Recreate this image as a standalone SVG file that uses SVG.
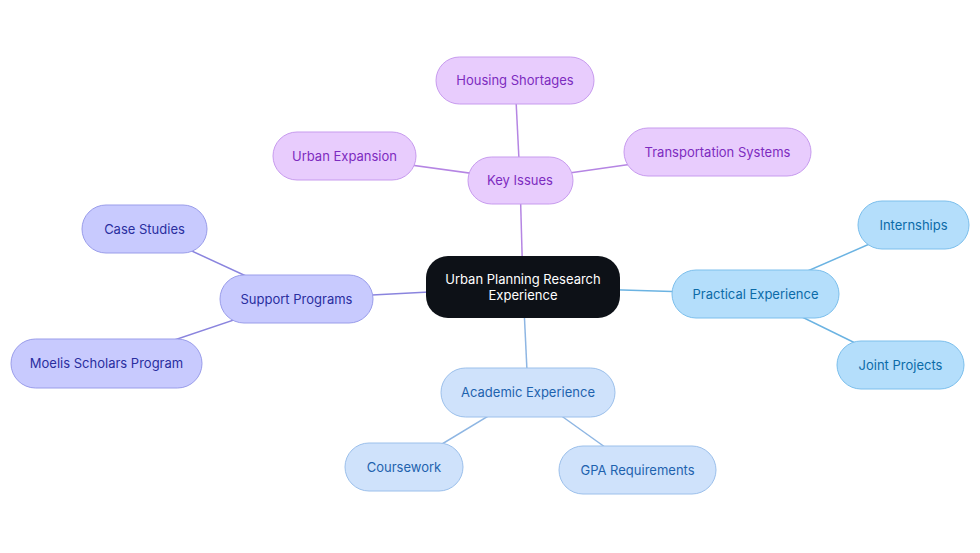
<svg xmlns="http://www.w3.org/2000/svg" width="980" height="553" viewBox="0 0 980 553">
<style>
text{font-family:Inter,"Noto Sans",sans-serif;font-size:13px;text-anchor:middle;dominant-baseline:central}
.p rect{fill:#E8CCFD;stroke:#C79BEE;stroke-width:1}
.p text{fill:#7D2BBF}
.i rect{fill:#C8CAFE;stroke:#9A9DEA;stroke-width:1}
.i text{fill:#2A2E9E}
.b rect{fill:#B4DEFB;stroke:#7CBFEC;stroke-width:1}
.b text{fill:#0B6BA8}
.a rect{fill:#CFE2FB;stroke:#9CC0EB;stroke-width:1}
.a text{fill:#1E62AE}
.c rect{fill:#0D1117}
.c text{fill:#FFFFFF}
.lp{stroke:#B585E3;stroke-width:1.5}
.li{stroke:#8A84DE;stroke-width:1.5}
.lb{stroke:#6BB3E2;stroke-width:1.5}
.la{stroke:#8EB6E3;stroke-width:1.5}
</style>
<rect width="980" height="553" fill="#FFFFFF"/>
<g id="connectors" fill="none">
<line class="lp" x1="523" y1="287" x2="520" y2="180"/>
<line class="lp" x1="520" y1="180" x2="515" y2="80"/>
<line class="lp" x1="520" y1="180" x2="345" y2="156"/>
<line class="lp" x1="520" y1="180" x2="717" y2="152"/>
<line class="li" x1="523" y1="287" x2="296" y2="299"/>
<line class="li" x1="296" y1="299" x2="144" y2="229"/>
<line class="li" x1="296" y1="299" x2="106" y2="363"/>
<line class="lb" x1="523" y1="287" x2="755" y2="294"/>
<line class="lb" x1="755" y1="294" x2="913" y2="225"/>
<line class="lb" x1="755" y1="294" x2="900" y2="365"/>
<line class="la" x1="523" y1="287" x2="528" y2="392"/>
<line class="la" x1="528" y1="392" x2="404" y2="467"/>
<line class="la" x1="528" y1="392" x2="637" y2="470"/>
</g>
<g id="center" class="c"><rect x="426" y="256" width="194" height="62" rx="22"/><text x="523" y="278.5">Urban Planning Research</text><text x="523" y="294.5">Experience</text></g>
<g id="key-issues" class="p"><rect x="468" y="157" width="105" height="47" rx="23.5"/><text x="520" y="180">Key Issues</text></g>
<g id="housing" class="p"><rect x="436" y="57" width="158" height="47" rx="23.5"/><text x="515" y="80">Housing Shortages</text></g>
<g id="urban-expansion" class="p"><rect x="273" y="132" width="143" height="48" rx="24"/><text x="344.5" y="155.5">Urban Expansion</text></g>
<g id="transportation" class="p"><rect x="624" y="128" width="187" height="48" rx="24"/><text x="717.5" y="151.5">Transportation Systems</text></g>
<g id="support" class="i"><rect x="220" y="275" width="153" height="48" rx="24"/><text x="296.5" y="298.5">Support Programs</text></g>
<g id="case-studies" class="i"><rect x="82" y="205" width="125" height="48" rx="24"/><text x="144.5" y="228.5">Case Studies</text></g>
<g id="moelis" class="i"><rect x="11" y="339" width="191" height="49" rx="24.5"/><text x="106.5" y="363">Moelis Scholars Program</text></g>
<g id="practical" class="b"><rect x="672" y="270" width="167" height="48" rx="24"/><text x="755.5" y="293.5">Practical Experience</text></g>
<g id="internships" class="b"><rect x="858" y="201" width="111" height="48" rx="24"/><text x="913.5" y="224.5">Internships</text></g>
<g id="joint-projects" class="b"><rect x="837" y="341" width="127" height="48" rx="24"/><text x="900.5" y="364.5">Joint Projects</text></g>
<g id="academic" class="a"><rect x="441" y="368" width="174" height="49" rx="24.5"/><text x="528" y="392">Academic Experience</text></g>
<g id="coursework" class="a"><rect x="345" y="443" width="118" height="48" rx="24"/><text x="404" y="466.5">Coursework</text></g>
<g id="gpa" class="a"><rect x="559" y="446" width="157" height="48" rx="24"/><text x="637.5" y="469.5">GPA Requirements</text></g>
</svg>
